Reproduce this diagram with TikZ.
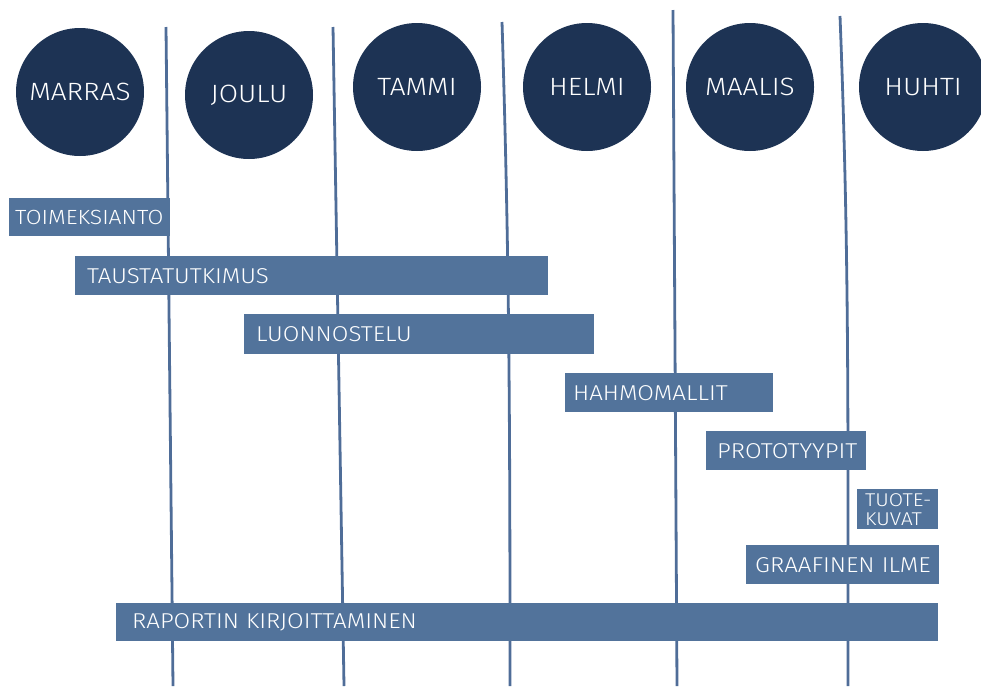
\documentclass[tikz,border=0pt]{standalone}
\usepackage{fontspec}
\setmainfont{Fira Sans}[UprightFont=* Light,FakeStretch=1.12]
\definecolor{navy}{HTML}{1D3354}
\definecolor{barblue}{HTML}{52739B}
\definecolor{lineblue}{HTML}{4F6D98}
\begin{document}
\begin{tikzpicture}[x=1pt,y=-1pt,
  month/.style={circle,fill=navy,minimum size=128pt,inner sep=0pt,text=white,font=\fontsize{25}{25}\selectfont},
  gbar/.style={fill=barblue,text=white,anchor=north west,inner ysep=0pt,align=left,font=\fontsize{21.5}{22}\selectfont},
  vline/.style={draw=lineblue,line width=2.8pt}]
\useasboundingbox (0,0) rectangle (981,686);
% vertical month dividers
\coordinate (l1t) at (166,27);  \coordinate (l1b) at (173,686);
\coordinate (l2t) at (333,27);  \coordinate (l2b) at (344,686);
\coordinate (l3t) at (502,22);  \coordinate (l3b) at (510,686);
\coordinate (l4t) at (673,10);  \coordinate (l4b) at (677,686);
\coordinate (l5t) at (840,16);  \coordinate (l5b) at (848,686);
\draw[vline] (l1t) -- (l1b);
\draw[vline] (l2t) -- (l2b);
\draw[vline] (l3t) .. controls (509,250) and (510,400) .. (l3b);
\draw[vline] (l4t) -- (l4b);
\draw[vline] (l5t) .. controls (849,250) and (848,400) .. (l5b);
% months
\node[month] (marras) at (80,92) {MARRAS};
\node[month] (joulu) at (249,95) {JOULU};
\node[month] (tammi) at (417,87) {TAMMI};
\node[month] (helmi) at (587,87) {HELMI};
\node[month] (maalis) at (750,87) {MAALIS};
\node[month] (huhti) at (923,87) {HUHTI};
% bars
\node[gbar,minimum height=38pt,inner xsep=6pt,text width=149pt,font=\fontsize{20.5}{22}\selectfont] (toim) at (9,198) {\mbox{TOIMEKSIANTO}};
\node[gbar,minimum height=39pt,inner xsep=12pt,text width=449pt] (taus) at (75,256) {\mbox{TAUSTATUTKIMUS}};
\node[gbar,minimum height=40pt,inner xsep=12pt,text width=326pt] (luon) at (244,314) {\mbox{LUONNOSTELU}};
\node[gbar,minimum height=39pt,inner xsep=8pt,text width=192pt] (hahm) at (565,373) {\mbox{HAHMOMALLIT}};
\node[gbar,minimum height=39pt,inner xsep=11pt,text width=138pt] (prot) at (706,431) {\mbox{PROTOTYYPIT}};
\node[gbar,minimum height=40pt,inner xsep=8pt,text width=65pt,font=\fontsize{18.5}{19}\selectfont] (tuot) at (857,489) {\vbox{\baselineskip=19pt\hbox{TUOTE-}\hbox{KUVAT}}};
\node[gbar,minimum height=39pt,inner xsep=9pt,text width=175pt] (graa) at (746,545) {\mbox{GRAAFINEN ILME}};
\node[gbar,minimum height=38pt,inner xsep=16pt,text width=790pt] (rapo) at (116,603) {\mbox{RAPORTIN KIRJOITTAMINEN}};
\end{tikzpicture}
\end{document}
